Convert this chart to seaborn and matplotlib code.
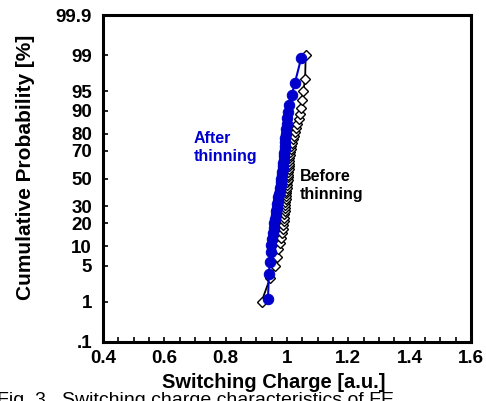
import numpy as np
import matplotlib
matplotlib.use("Agg")
import matplotlib.pyplot as plt
import seaborn as sns
from matplotlib.ticker import MultipleLocator, NullLocator
from statistics import NormalDist

# ---------------- data ----------------
# Switching charge [a.u.] sorted ascending, before thinning (open diamonds)
before_charge = [0.917, 0.945, 0.962, 0.967, 0.972, 0.976, 0.980, 0.983, 0.986, 0.988,
                 0.989, 0.990, 0.991, 0.992, 0.993, 0.994, 0.995, 0.996, 0.997, 0.998,
                 0.998, 0.999, 1.000, 1.001, 1.002, 1.003, 1.004, 1.004, 1.005, 1.006,
                 1.006, 1.007, 1.008, 1.009, 1.010, 1.012, 1.014, 1.016, 1.019, 1.022,
                 1.026, 1.030, 1.034, 1.038, 1.042, 1.046, 1.048, 1.053, 1.059, 1.061]
# after thinning (filled blue circles)
after_charge = [0.938, 0.941, 0.944, 0.947, 0.949, 0.951, 0.953, 0.956, 0.958, 0.960,
                0.963, 0.965, 0.967, 0.969, 0.970, 0.972, 0.974, 0.976, 0.977, 0.979,
                0.981, 0.982, 0.984, 0.985, 0.986, 0.987, 0.988, 0.989, 0.990, 0.991,
                0.992, 0.993, 0.994, 0.995, 0.996, 0.998, 0.999, 1.001, 1.003, 1.007,
                1.015, 1.026, 1.046]

y_tick_values = [0.1, 1, 5, 10, 20, 30, 50, 70, 80, 90, 95, 99, 99.9]
y_tick_labels = ['.1', '1', '5', '10', '20', '30', '50', '70', '80', '90', '95', '99', '99.9']
x_tick_values = [0.4, 0.6, 0.8, 1.0, 1.2, 1.4, 1.6]
x_tick_labels = ['0.4', '0.6', '0.8', '1', '1.2', '1.4', '1.6']


def plotting_positions(n):
    # cumulative probability [%] of the i-th ranked sample
    return (np.arange(1, n + 1) - 0.5) / n * 100.0


before_prob = plotting_positions(len(before_charge))
after_prob = plotting_positions(len(after_charge))

# ---------------- probit scale ----------------
_nd = NormalDist()


def _fwd(p):
    p = np.asarray(p, dtype=float)
    out = []
    for v in p.ravel():
        if not np.isfinite(v):
            out.append(np.nan)
        else:
            q = min(max(v / 100.0, 1e-9), 1 - 1e-9)
            out.append(_nd.inv_cdf(q))
    return np.array(out).reshape(p.shape)


def _inv(z):
    z = np.asarray(z, dtype=float)
    out = [(_nd.cdf(v) * 100.0 if np.isfinite(v) else np.nan) for v in z.ravel()]
    return np.array(out).reshape(z.shape)


# ---------------- figure ----------------
sns.set_style("ticks")
plt.rcParams['font.family'] = ['Liberation Sans', 'DejaVu Sans']
plt.rcParams['font.weight'] = 'bold'

W, H = 486, 401
fig = plt.figure(figsize=(W / 100, H / 100), dpi=100)
L, R, T, B = 103, 471, 15, 342
ax = fig.add_axes([L / W, (H - B) / H, (R - L) / W, (B - T) / H])
ax.set_yscale('function', functions=(_fwd, _inv))

sns.lineplot(x=before_charge, y=before_prob, ax=ax, sort=False, estimator=None,
             color='black', linewidth=1.3, marker='D', markersize=5.5,
             markerfacecolor='white', markeredgecolor='black', markeredgewidth=1.0)
sns.lineplot(x=after_charge, y=after_prob, ax=ax, sort=False, estimator=None,
             color='#0000CC', linewidth=1.5, marker='o', markersize=7.5,
             markerfacecolor='#0000CC', markeredgecolor='#0000CC')

ax.set_xlim(0.4, 1.6)
ax.set_ylim(0.1, 99.9)
ax.set_xticks(x_tick_values)
ax.set_xticklabels(x_tick_labels)
ax.xaxis.set_minor_locator(MultipleLocator(0.05))
ax.set_yticks(y_tick_values)
ax.set_yticklabels(y_tick_labels)
ax.yaxis.set_minor_locator(NullLocator())

for s in ax.spines.values():
    s.set_linewidth(2.2)
    s.set_color('black')
ax.tick_params(axis='both', which='both', direction='in', length=3.5, width=1.2,
               colors='black', labelsize=13.5, top=False, right=False)
ax.tick_params(axis='x', which='both', pad=6)
ax.tick_params(axis='y', which='both', pad=8)
for lab in ax.get_xticklabels() + ax.get_yticklabels():
    lab.set_fontweight('bold')

ax.set_xlabel('Switching Charge [a.u.]', fontsize=14.5, fontweight='bold', color='black')
ax.xaxis.set_label_coords((274 - L) / (R - L), -(383 - B) / (B - T), transform=ax.transAxes)
ax.xaxis.label.set_va('center')
ax.set_ylabel('Cumulative Probability [%]', fontsize=15, fontweight='bold', color='black')
ax.yaxis.set_label_coords(-(L - 26) / (R - L), (B - 167) / (B - T), transform=ax.transAxes)
ax.yaxis.label.set_va('center')

ax.text(0.697, 72, 'After\nthinning', color='#0000CC', fontsize=11.5, fontweight='bold',
        ha='left', va='center', linespacing=1.25)
ax.text(1.042, 44.5, 'Before\nthinning', color='black', fontsize=11.5, fontweight='bold',
        ha='left', va='center', linespacing=1.25)

# partially visible caption under the chart (cut off by the image edge, as in the source)
fig.text(-3 / W, -4 / H, 'Fig. 3.  Switching charge characteristics of FE', fontsize=14,
         fontweight='normal', ha='left', va='baseline', color='black')

fig.savefig('out.png', dpi=100)
